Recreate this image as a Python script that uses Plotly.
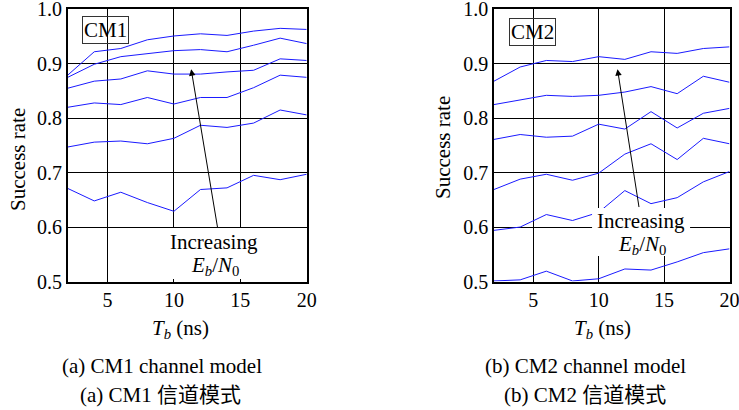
import plotly.graph_objects as go

# ---------------- data ----------------
tb = [2, 4, 6, 8, 10, 12, 14, 16, 18, 20]

cm1_s1 = [0.879, 0.922, 0.928, 0.944, 0.951, 0.955, 0.952, 0.960, 0.965, 0.963]
cm1_s2 = [0.875, 0.899, 0.913, 0.919, 0.924, 0.926, 0.922, 0.934, 0.947, 0.937]
cm1_s3 = [0.855, 0.868, 0.872, 0.887, 0.881, 0.881, 0.885, 0.888, 0.909, 0.906]
cm1_s4 = [0.820, 0.828, 0.825, 0.838, 0.826, 0.838, 0.838, 0.856, 0.879, 0.875]
cm1_s5 = [0.747, 0.756, 0.758, 0.753, 0.763, 0.787, 0.783, 0.791, 0.815, 0.806]
cm1_s6 = [0.671, 0.648, 0.664, 0.645, 0.629, 0.669, 0.672, 0.695, 0.687, 0.697]

cm2_s1 = [0.868, 0.894, 0.906, 0.904, 0.913, 0.908, 0.922, 0.919, 0.928, 0.931]
cm2_s2 = [0.825, 0.833, 0.842, 0.840, 0.842, 0.848, 0.858, 0.845, 0.877, 0.866]
cm2_s3 = [0.761, 0.770, 0.765, 0.767, 0.789, 0.780, 0.812, 0.782, 0.809, 0.818]
cm2_s4 = [0.669, 0.688, 0.697, 0.686, 0.699, 0.734, 0.753, 0.724, 0.763, 0.753]
cm2_s5 = [0.594, 0.600, 0.623, 0.612, 0.627, 0.667, 0.643, 0.654, 0.683, 0.702]
cm2_s6 = [0.501, 0.503, 0.519, 0.501, 0.505, 0.523, 0.521, 0.536, 0.553, 0.560]

x_ticks = [5, 10, 15, 20]
y_ticks = [0.5, 0.6, 0.7, 0.8, 0.9, 1.0]
y_tick_labels = ["0.5", "0.6", "0.7", "0.8", "0.9", "1.0"]

cm1_series = [cm1_s1, cm1_s2, cm1_s3, cm1_s4, cm1_s5, cm1_s6]
cm2_series = [cm2_s1, cm2_s2, cm2_s3, cm2_s4, cm2_s5, cm2_s6]

# ---------------- figure ----------------
W, H = 739, 410
SERIF = "Times New Roman, Liberation Serif, serif"
MIX = "Times New Roman, Liberation Serif, Noto Sans CJK SC, serif"
FS = 21
TFS = 20
BLUE = "#1a1aff"

fig = go.Figure()
for s in cm1_series:
    fig.add_trace(go.Scatter(x=tb, y=s, mode="lines", xaxis="x", yaxis="y",
                             line=dict(color=BLUE, width=1), showlegend=False,
                             hoverinfo="skip"))
for s in cm2_series:
    fig.add_trace(go.Scatter(x=tb, y=s, mode="lines", xaxis="x2", yaxis="y2",
                             line=dict(color=BLUE, width=1), showlegend=False,
                             hoverinfo="skip"))


def px_x(p):
    return p / W


def px_y(p):
    return 1 - p / H


Y_TOP, Y_BOT = 9.3, 281.5
y_dom = [px_y(Y_BOT), px_y(Y_TOP)]
xd1 = [px_x(67.7), px_x(306.7)]
xd2 = [px_x(494), px_x(729.5)]


def val_y(p):
    # pixel row -> y value (range 0.5..1.0)
    return 1.0 - 0.5 * (p - Y_TOP) / (Y_BOT - Y_TOP)


ax_common = dict(showline=True, mirror=True, linecolor="black", linewidth=1.6,
                 showgrid=True, gridcolor="black", gridwidth=1, zeroline=False,
                 ticks="", ticklabeloverflow="allow", automargin=False,
                 tickfont=dict(family=SERIF, size=TFS, color="black"))

fig.update_layout(
    width=W, height=H, margin=dict(l=0, r=0, t=0, b=0, autoexpand=False),
    paper_bgcolor="white", plot_bgcolor="white",
    xaxis=dict(domain=xd1, range=[2, 20], anchor="y", tickvals=x_ticks, **ax_common),
    yaxis=dict(domain=y_dom, range=[0.5, 1.0], anchor="x", tickvals=y_ticks,
               ticktext=y_tick_labels, **ax_common),
    xaxis2=dict(domain=xd2, range=[2, 20], anchor="y2", tickvals=x_ticks, **ax_common),
    yaxis2=dict(domain=y_dom, range=[0.5, 1.0], anchor="x2", tickvals=y_ticks,
                ticktext=y_tick_labels, **ax_common),
)

# white boxes behind the "Increasing" labels (cover grid and curves)
shapes = [
    dict(type="rect", xref="x", yref="y", layer="above",
         xsizemode="pixel", ysizemode="pixel", xanchor=13.0, yanchor=val_y(253.5),
         x0=-49, x1=49, y0=-25.5, y1=25.5, fillcolor="white", line=dict(width=0)),
    dict(type="rect", xref="x2", yref="y2", layer="above",
         xsizemode="pixel", ysizemode="pixel", xanchor=13.24, yanchor=val_y(232),
         x0=-49, x1=49, y0=-24, y1=24, fillcolor="white", line=dict(width=0)),
]
fig.update_layout(shapes=shapes)

ann = []
font = dict(family=SERIF, size=FS, color="black")
C = dict(xanchor="center", yanchor="middle", showarrow=False)

# panel labels
ann.append(dict(x=4.84, y=0.962, xref="x", yref="y", text="CM1", font=font,
                bordercolor="#333", borderwidth=1, borderpad=1, **C))
ann.append(dict(x=4.98, y=0.958, xref="x2", yref="y2", text="CM2", font=font,
                bordercolor="#333", borderwidth=1, borderpad=1, **C))

# increasing labels
eb_text = "<i>E<sub>b</sub></i>/<i>N</i><sub>0</sub>"
ann.append(dict(x=13.0, y=val_y(242), xref="x", yref="y", text="Increasing",
                font=font, **C))
ann.append(dict(x=13.1, y=val_y(266), xref="x", yref="y", text=eb_text,
                font=font, **C))
ann.append(dict(x=13.24, y=val_y(221), xref="x2", yref="y2", text="Increasing",
                font=font, **C))
ann.append(dict(x=13.3, y=val_y(245), xref="x2", yref="y2", text=eb_text,
                font=font, **C))

# arrows
ann.append(dict(x=11.3, y=0.890, xref="x", yref="y", ax=13.3, ay=0.597,
                axref="x", ayref="y", text="", showarrow=True, arrowhead=2,
                arrowsize=1.3, arrowwidth=1, arrowcolor="black"))
ann.append(dict(x=11.44, y=0.890, xref="x2", yref="y2", ax=13.1, ay=0.634,
                axref="x2", ayref="y2", text="", showarrow=True, arrowhead=2,
                arrowsize=1.3, arrowwidth=1, arrowcolor="black"))

# axis titles
ann.append(dict(x=px_x(18), y=px_y(160), xref="paper", yref="paper", text="Success rate",
                textangle=-90, font=font, **C))
ann.append(dict(x=px_x(443), y=px_y(148), xref="paper", yref="paper", text="Success rate",
                textangle=-90, font=font, **C))
tb_text = "<i>T<sub>b</sub></i> (ns)"
ann.append(dict(x=px_x(180), y=px_y(329), xref="paper", yref="paper", text=tb_text,
                font=font, **C))
ann.append(dict(x=px_x(602), y=px_y(329), xref="paper", yref="paper", text=tb_text,
                font=font, **C))

# captions
cap_font = dict(family=MIX, size=FS, color="black")
ann.append(dict(x=px_x(162), y=px_y(366), xref="paper", yref="paper",
                text="(a) CM1 channel model", font=cap_font, **C))
ann.append(dict(x=px_x(160), y=px_y(395), xref="paper", yref="paper",
                text="(a) CM1 信道模式", font=cap_font, **C))
ann.append(dict(x=px_x(585), y=px_y(366), xref="paper", yref="paper",
                text="(b) CM2 channel model", font=cap_font, **C))
ann.append(dict(x=px_x(585), y=px_y(395), xref="paper", yref="paper",
                text="(b) CM2 信道模式", font=cap_font, **C))

fig.update_layout(annotations=ann)
fig.write_html("out.html", config={"displayModeBar": False},
               post_script="document.body.style.margin='0';document.body.style.padding='0';"
                           "document.body.style.overflow='hidden';")
